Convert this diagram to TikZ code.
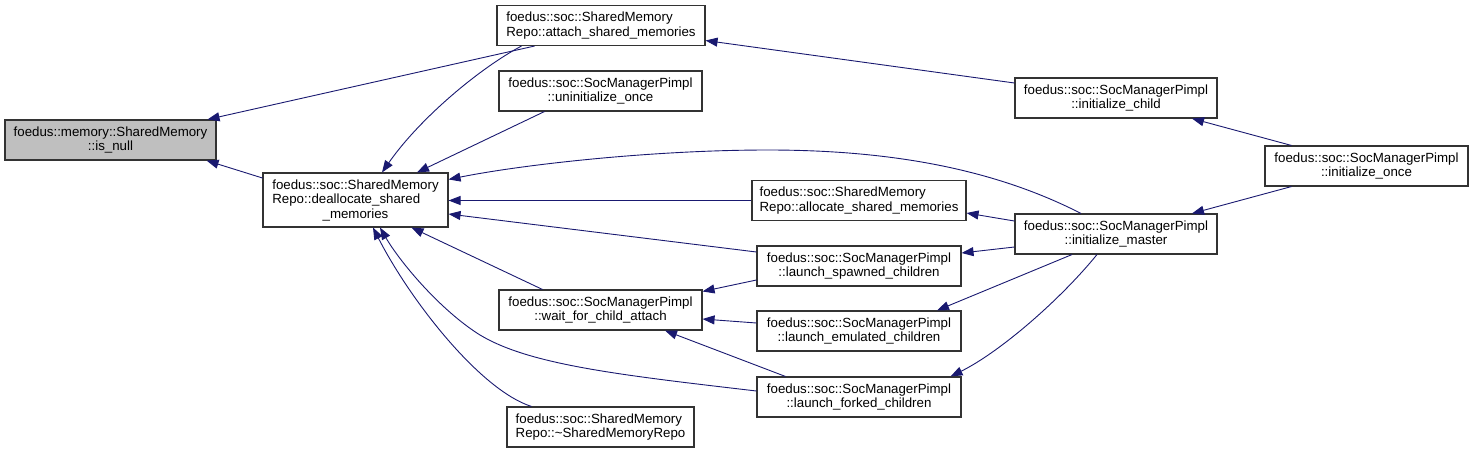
\documentclass[tikz,border=0pt]{standalone}
\usepackage{fontspec}
\setmainfont{Liberation Sans}
\usepackage{xcolor}
\usepackage{tikz}
\usetikzlibrary{arrows.meta,positioning,calc}
\definecolor{callblue}{HTML}{191970}
\definecolor{hitgray}{HTML}{BFBFBF}

\begin{document}
\begin{tikzpicture}[
  x=1pt, y=-1pt,
  fn/.style={draw=black!80, line width=1.1pt, fill=white, align=center, inner sep=0pt,
    minimum height=40pt, font=\fontsize{13.3}{14.5}\selectfont},
  fnl/.style={fn, align=left},
  arr/.style={draw=callblue, line width=0.9pt, -{Triangle[length=12pt,width=9pt]}}
]
  \useasboundingbox (0,0) rectangle (1473,453);

  \node[fn, fill=hitgray, minimum width=211pt] (isnull) at (110.5,140) {foedus::memory::SharedMemory\\::is\_null};
  \node[fn, minimum width=185pt, minimum height=54pt] (dealloc) at (355.5,200)
    {foedus::soc::SharedMemory\\\rlap{Repo::deallocate\_shared}\phantom{foedus::soc::SharedMemory}\\\_memories};
  \node[fnl, minimum width=208pt] (attach) at (601,25.5) {foedus::soc::SharedMemory\\Repo::attach\_shared\_memories};
  \node[fn, minimum width=203pt] (uninit) at (600.5,91) {foedus::soc::SocManagerPimpl\\::uninitialize\_once};
  \node[fn, minimum width=203pt] (wait) at (600.5,310) {foedus::soc::SocManagerPimpl\\::wait\_for\_child\_attach};
  \node[fnl, minimum width=187pt] (dtor) at (600.5,427) {foedus::soc::SharedMemory\\Repo::\textasciitilde SharedMemoryRepo};
  \node[fnl, minimum width=214pt] (alloc) at (859,200.5) {foedus::soc::SharedMemory\\Repo::allocate\_shared\_memories};
  \node[fn, minimum width=204pt] (spawned) at (859,266) {foedus::soc::SocManagerPimpl\\::launch\_spawned\_children};
  \node[fn, minimum width=204pt] (emulated) at (859,331) {foedus::soc::SocManagerPimpl\\::launch\_emulated\_children};
  \node[fn, minimum width=204pt] (forked) at (859,397) {foedus::soc::SocManagerPimpl\\::launch\_forked\_children};
  \node[fn, minimum width=202pt] (child) at (1116,98) {foedus::soc::SocManagerPimpl\\::initialize\_child};
  \node[fn, minimum width=202pt] (master) at (1116,234) {foedus::soc::SocManagerPimpl\\::initialize\_master};
  \node[fn, minimum width=203pt] (once) at (1366.5,166) {foedus::soc::SocManagerPimpl\\::initialize\_once};

  \draw[arr] ($(attach.south west)+(38,0)$) -- ($(isnull.north east)+(-9,0)$);
  \draw[arr] ($(dealloc.west)+(0,-22)$) -- ($(isnull.south east)+(-10,0)$);
  \draw[arr] ($(attach.south west)+(25,0)$) .. controls (480,68) and (420,118) .. ($(dealloc.north)+(26.5,0)$);
  \draw[arr] ($(uninit.south west)+(46,0)$) -- ($(dealloc.north)+(61.5,0)$);
  \draw[arr] ($(master.north)+(-35,0)$) .. controls (1000,172) and (900,150) .. (768,150)
    .. controls (650,150) and (520,165) .. ($(dealloc.north east)+(0,7)$);
  \draw[arr] (alloc.west) -- (dealloc.east |- alloc.west);
  \draw[arr] ($(spawned.west)+(0,-14)$) -- ($(dealloc.east)+(0,14)$);
  \draw[arr] ($(wait.north west)+(44,0)$) -- ($(dealloc.south)+(56,0)$);
  \draw[arr] ($(forked.west)+(0,-6)$) .. controls (620,375) and (530,365) .. (480,335)
    .. controls (440,310) and (400,262) .. ($(dealloc.south)+(24.5,0)$);
  \draw[arr] ($(dtor.north west)+(25,0)$) .. controls (480,390) and (410,300) .. ($(dealloc.south)+(17.5,0)$);
  \draw[arr] ($(spawned.west)+(0,14)$) -- ($(wait.north east)+(0,2)$);
  \draw[arr] ($(emulated.west)+(0,-8)$) -- ($(wait.east)+(0,9)$);
  \draw[arr] ($(forked.north west)+(29,0)$) -- ($(wait.south)+(64.5,0)$);
  \draw[arr] ($(master.west)+(0,-13)$) -- ($(alloc.east)+(0,12.5)$);
  \draw[arr] ($(master.west)+(0,13)$) -- ($(spawned.east)+(0,-13)$);
  \draw[arr] ($(master.south)+(-44,0)$) -- ($(emulated.north)+(78,0)$);
  \draw[arr] ($(master.south)+(-19,0)$) .. controls (1060,300) and (1000,352) .. ($(forked.north east)+(-11,0)$);
  \draw[arr] ($(child.west)+(0,-15)$) -- ($(attach.east)+(0,15)$);
  \draw[arr] ($(once.north west)+(27,0)$) -- ($(child.south)+(76,0)$);
  \draw[arr] ($(once.south west)+(27,0)$) -- ($(master.north)+(76,0)$);
\end{tikzpicture}
\end{document}
